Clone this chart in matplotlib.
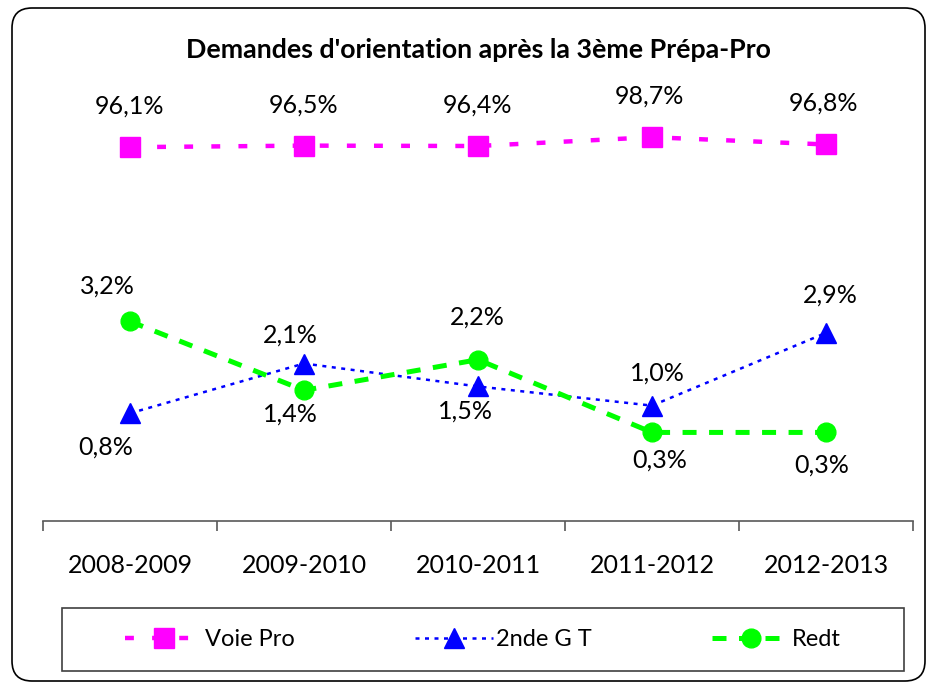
import matplotlib.pyplot as plt
from matplotlib.patches import FancyBboxPatch, Rectangle

plt.rcParams['font.family'] = ['Lato', 'DejaVu Sans']

years = ['2008-2009', '2009-2010', '2010-2011', '2011-2012', '2012-2013']
voie_pro = [96.1, 96.5, 96.4, 98.7, 96.8]
seconde_gt = [0.8, 2.1, 1.5, 1.0, 2.9]
redt = [3.2, 1.4, 2.2, 0.3, 0.3]

# label offsets in pixels (dx, dy), as moved by hand in the original
off_vp = [(0, 41), (0, 41), (0, 41), (-3, 41), (-3, 41)]
off_gt = [(-24, -34), (-14, 28), (-13, -25), (5, 33), (4, 38)]
off_rd = [(-23, 35), (-14, -24), (-1, 43), (8, -28), (-4, -33)]

fig = plt.figure(figsize=(9.31, 6.82), dpi=100)
ax = fig.add_axes([43 / 931, (682 - 520.5) / 682, 870 / 931, 459.5 / 682])
ax2 = ax.twinx()

x = list(range(len(years)))

ax.plot(x, seconde_gt, color='#0000FF', lw=1.8, ls=(0, (1.6, 2.2)),
        marker='^', ms=15, label='2nde G T')
ax.plot(x, redt, color='#00FF00', lw=3.6, ls=(0, (2.8, 2.5)),
        marker='o', ms=13.5, label='Redt')
ax2.plot(x, voie_pro, color='#FF00FF', lw=3.2, ls=(0, (2.0, 4.1)),
         marker='s', ms=13.7, label='Voie Pro')


def fmt(v):
    return f'{v:.1f}%'.replace('.', ',')


for axis, vals, offs in [(ax2, voie_pro, off_vp), (ax, seconde_gt, off_gt), (ax, redt, off_rd)]:
    for xi, v, (dx, dy) in zip(x, vals, offs):
        axis.annotate(fmt(v), (xi, v), xytext=(dx, dy), textcoords='offset pixels',
                      ha='center', va='center', fontsize=18)

ax.set_xlim(-0.5, 4.5)
ax.set_ylim(-2, 10)
ax2.set_ylim(-1.4, 118.6)

for a in (ax, ax2):
    for s in ('left', 'right', 'top'):
        a.spines[s].set_visible(False)
    a.set_yticks([])
ax2.spines['bottom'].set_visible(False)
ax.spines['bottom'].set_color('#595959')
ax.spines['bottom'].set_linewidth(1.2)

ax.set_xticks([-0.5, 0.5, 1.5, 2.5, 3.5, 4.5])
ax.set_xticklabels([])
ax.tick_params(axis='x', which='major', length=7.2, width=1.2, color='#595959')
ax.set_xticks(x, minor=True)
ax.set_xticklabels(years, minor=True, fontsize=18)
ax.tick_params(axis='x', which='minor', length=0, pad=24)

fig.text(478 / 931, 1 - 50 / 682, "Demandes d'orientation après la 3ème Prépa-Pro",
         ha='center', va='center', fontsize=19.3, fontweight='bold')

# legend
h1 = ax2.get_lines()[0]
h2, h3 = ax.get_lines()
fig.legend([h1, h2, h3], ['Voie Pro', '2nde G T', 'Redt'], ncol=3, loc='center',
           bbox_to_anchor=(483 / 931, (682 - 639.5) / 682), frameon=False,
           handlelength=3.3, handletextpad=0.1, columnspacing=5.1, fontsize=17)
fig.patches.append(Rectangle((0.62, 0.11), 8.42, 0.63, transform=fig.dpi_scale_trans,
                             fill=False, edgecolor='#404040', lw=1.2))

fig.patches.append(FancyBboxPatch((0.12, 0.01), 9.13, 6.73, transform=fig.dpi_scale_trans,
                                  boxstyle='round,pad=0,rounding_size=0.2',
                                  fill=False, edgecolor='black', lw=1.2))

fig.savefig('out.png', dpi=100)
